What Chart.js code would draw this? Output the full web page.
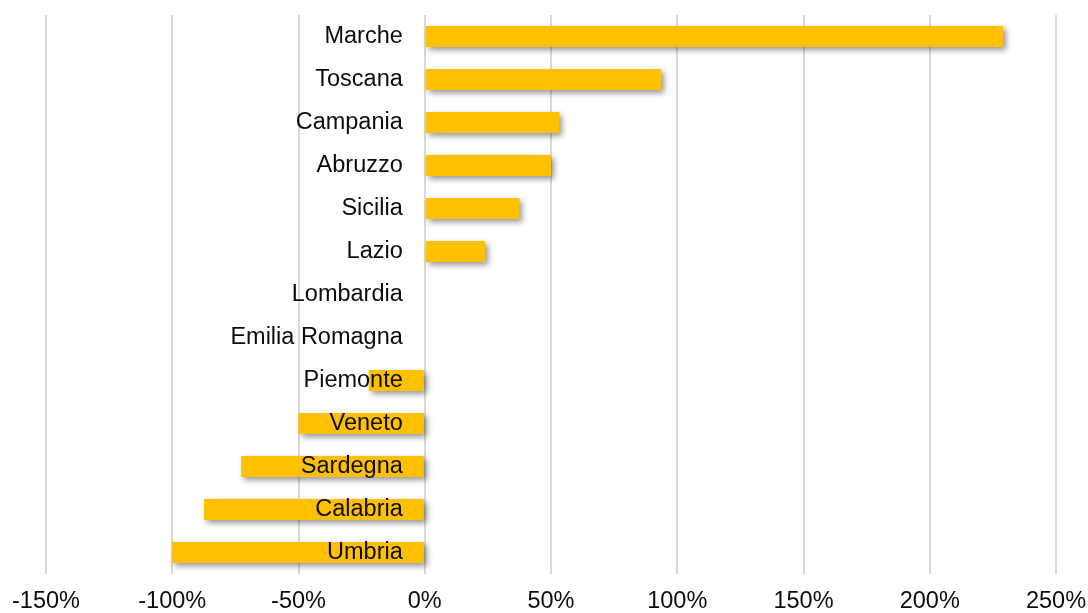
<!DOCTYPE html>
<html>
<head>
<meta charset="utf-8">
<script src="https://cdn.jsdelivr.net/npm/chart.js@4"></script>
<style>
  html, body { margin: 0; padding: 0; background: #fff; }
  #wrap { width: 1088px; height: 613px; }
</style>
</head>
<body>
<div id="wrap"><canvas id="regionChart"></canvas></div>
<script>
// dati: variazione % per regione (dall'alto verso il basso)
const regioni = ['Marche', 'Toscana', 'Campania', 'Abruzzo', 'Sicilia', 'Lazio', 'Lombardia',
    'Emilia Romagna', 'Piemonte', 'Veneto', 'Sardegna', 'Calabria', 'Umbria'];
const variazioni = [229, 93.6, 53.3, 50, 37.5, 23.9, 0, 0, -22.2, -50, -72.7, -87.4, -100];
const asseX = { min: -150, max: 250, step: 50 };

// le etichette delle regioni stanno un po' a sinistra dello zero
const posEtichette = -8.7;

// ombra sotto le barre, come nel grafico originale
const barShadow = {
    id: 'barShadow',
    beforeDatasetsDraw(chart) {
        const ctx = chart.ctx;
        ctx.save();
        ctx.shadowColor = 'rgba(0, 0, 0, 0.42)';
        ctx.shadowBlur = 6;
        ctx.shadowOffsetX = 3;
        ctx.shadowOffsetY = 3;
    },
    afterDatasetsDraw(chart) {
        chart.ctx.restore();
    }
};

const ctx = document.getElementById('regionChart').getContext('2d');
new Chart(ctx, {
    type: 'bar',
    data: {
        labels: regioni,
        datasets: [{
            data: variazioni,
            backgroundColor: '#FFC000',
            borderWidth: 0,
            barPercentage: 0.49,
            categoryPercentage: 1
        }]
    },
    options: {
        indexAxis: 'y',
        responsive: true,
        maintainAspectRatio: false,
        animation: false,
        layout: { padding: { left: 46, right: 32, top: 15, bottom: 0 } },
        plugins: { legend: { display: false }, tooltip: { enabled: false } },
        scales: {
            x: {
                min: asseX.min,
                max: asseX.max,
                border: { display: false },
                grid: { color: '#d9d9d9', lineWidth: 2, drawTicks: false },
                ticks: {
                    stepSize: asseX.step,
                    padding: 16,
                    color: '#0d0d0d',
                    font: { family: 'Liberation Sans, Arial, sans-serif', size: 23.5, lineHeight: 1 },
                    maxRotation: 0,
                    callback: v => v + '%'
                },
                // niente margine extra ai lati, l'area la decide layout.padding
                afterFit(scale) {
                    scale.paddingLeft = 0;
                    scale.paddingRight = 0;
                    scale.height = 39;
                }
            },
            y: {
                position: { x: posEtichette },
                border: { display: false },
                grid: { display: false },
                ticks: {
                    z: 1,
                    padding: 0,
                    color: '#0d0d0d',
                    autoSkip: false,
                    font: { family: 'Liberation Sans, Arial, sans-serif', size: 23.5, lineHeight: 1 }
                }
            }
        }
    },
    plugins: [barShadow]
});
</script>
</body>
</html>
